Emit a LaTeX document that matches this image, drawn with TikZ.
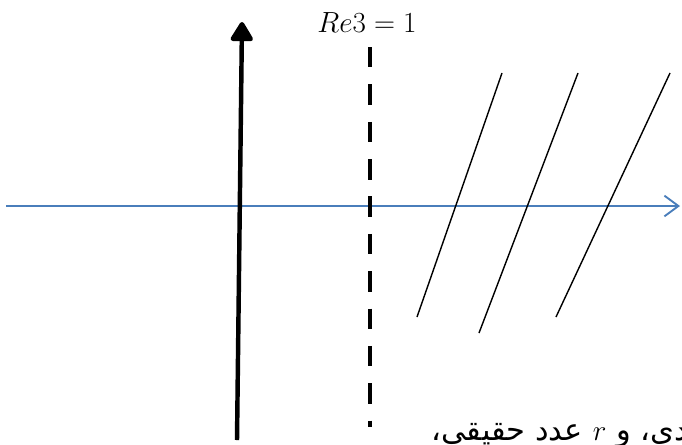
\documentclass[tikz,border=0pt]{standalone}
\usepackage{fontspec}
\usetikzlibrary{arrows.meta}
\TeXXeTstate=1
\newfontfamily\arabicfont[Script=Arabic]{DejaVu Sans}
\definecolor{axisBlue}{HTML}{4A7EBB}
\definecolor{inkBlack}{HTML}{000000}
\tikzset{
    imagaxis/.style={-{Triangle[length=6.4mm,width=7.4mm,round]},draw=inkBlack,line width=3.8pt},
    realaxis/.style={-{Straight Barb[length=4.2mm,width=6.2mm]},draw=axisBlue,line width=1.6pt},
    boundline/.style={draw=inkBlack,line width=3.4pt,dash pattern=on 17.4pt off 14.5pt},
    hatchline/.style={draw=inkBlack,line width=1.2pt},
    mathlabel/.style={font=\fontsize{23}{27}\selectfont,inner sep=0pt},
    notetext/.style={font=\fontsize{26}{30}\selectfont,inner sep=0pt}
}
\begin{document}
\begin{tikzpicture}[x=0.03cm,y=-0.03cm]
    \clip (0,0) rectangle (682,444);

    % axes
    \coordinate (realL) at (6,206);
    \coordinate (realR) at (680,206);
    \coordinate (imagB) at (237,440);
    \coordinate (imagT) at (242,22);
    \draw[realaxis] (realL) -- (realR);
    \draw[imagaxis] (imagB) -- (imagT);

    % line Re = 1
    \coordinate (lineT) at (370,47);
    \coordinate (lineB) at (370,427);
    \draw[boundline] (lineT) -- (lineB);
    \node[mathlabel,anchor=base] (relabel) at (367,32) {$Re3=1$};

    % hatching
    \coordinate (h1b) at (417,317); \coordinate (h1t) at (502,73);
    \coordinate (h2b) at (479,333); \coordinate (h2t) at (578,73);
    \coordinate (h3b) at (556,317); \coordinate (h3t) at (670,73);
    \draw[hatchline] (h1b) -- (h1t);
    \draw[hatchline] (h2b) -- (h2t);
    \draw[hatchline] (h3b) -- (h3t);

    \node[notetext,anchor=base east] (note) at (688,440)
        {\arabicfont\beginR دي، و \beginL$r$\endL{} عدد حقيقي،\endR};
\end{tikzpicture}
\end{document}
